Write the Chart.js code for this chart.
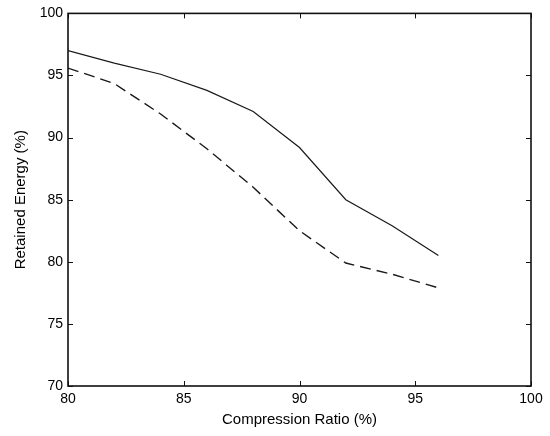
<!DOCTYPE html>
<html>
<head>
<meta charset="utf-8">
<script src="https://cdn.jsdelivr.net/npm/chart.js@4/dist/chart.umd.min.js"></script>
<style>
  html, body { margin: 0; padding: 0; background: #fff; }
</style>
</head>
<body>
<canvas id="canvas" width="550" height="436"></canvas>
<script>
// compression ratio (%) on x
var ratios = [80, 82, 84, 86, 88, 90, 92, 94, 96];
// retained energy (%) - solid curve
var solidEnergy = [97.0, 96.0, 95.1, 93.8, 92.1, 89.2, 85.0, 82.9, 80.5];
// retained energy (%) - dashed curve
var dashedEnergy = [95.6, 94.35, 91.9, 89.1, 86.0, 82.5, 79.9, 79.0, 77.9];

var xTicks = [80, 85, 90, 95, 100];
var yTicks = [70, 75, 80, 85, 90, 95, 100];

var fontFamily = "'Liberation Sans', Arial, sans-serif";

function toPoints(xs, ys) {
  return xs.map(function (x, i) { return { x: x, y: ys[i] }; });
}

// frame box plus inward tick marks on all four sides
var frameTicks = {
  id: 'frameTicks',
  afterDraw: function (chart) {
    var ctx = chart.ctx;
    var a = chart.chartArea;
    var len = 5;
    ctx.save();
    ctx.strokeStyle = '#111';
    ctx.lineWidth = 1;
    xTicks.forEach(function (v) {
      var px = Math.round(chart.scales.x.getPixelForValue(v)) + 0.5;
      ctx.beginPath();
      ctx.moveTo(px, a.bottom); ctx.lineTo(px, a.bottom - len);
      ctx.moveTo(px, a.top); ctx.lineTo(px, a.top + len);
      ctx.stroke();
    });
    yTicks.forEach(function (v) {
      var py = Math.round(chart.scales.y.getPixelForValue(v)) + 0.5;
      ctx.beginPath();
      ctx.moveTo(a.left, py); ctx.lineTo(a.left + len, py);
      ctx.moveTo(a.right, py); ctx.lineTo(a.right - len, py);
      ctx.stroke();
    });
    ctx.lineWidth = 1.6;
    ctx.strokeRect(a.left, a.top, a.right - a.left, a.bottom - a.top);
    ctx.restore();
  }
};

const ctx = document.getElementById('canvas').getContext('2d');
const myChart = new Chart(ctx, {
  type: 'line',
  data: {
    datasets: [{
      label: 'solid',
      data: toPoints(ratios, solidEnergy),
      borderColor: '#1a1a1a',
      borderWidth: 1.2,
      pointRadius: 0,
      fill: false,
      tension: 0
    }, {
      label: 'dashed',
      data: toPoints(ratios, dashedEnergy),
      borderColor: '#1a1a1a',
      borderWidth: 1.4,
      borderDash: [11, 6],
      pointRadius: 0,
      fill: false,
      tension: 0
    }]
  },
  options: {
    responsive: false,
    animation: false,
    layout: { padding: { left: 0, right: 19, top: 10, bottom: 0 } },
    plugins: {
      legend: { display: false },
      tooltip: { enabled: false }
    },
    scales: {
      x: {
        type: 'linear',
        min: 80,
        max: 100,
        afterBuildTicks: function (scale) {
          scale.ticks = xTicks.map(function (v) { return { value: v }; });
        },
        afterFit: function (scale) { scale.height = 50; },
        ticks: {
          color: '#000',
          padding: 5,
          maxRotation: 0,
          font: { family: fontFamily, size: 14 }
        },
        grid: { drawOnChartArea: false, drawTicks: false },
        border: { display: false },
        title: {
          display: true,
          text: 'Compression Ratio (%)',
          color: '#000',
          font: { family: fontFamily, size: 15 },
          padding: { top: 0, bottom: 7 }
        }
      },
      y: {
        type: 'linear',
        min: 70,
        max: 100,
        afterBuildTicks: function (scale) {
          scale.ticks = yTicks.map(function (v) { return { value: v }; });
        },
        afterFit: function (scale) { scale.width = 68; },
        ticks: {
          color: '#000',
          padding: 5,
          font: { family: fontFamily, size: 14 }
        },
        grid: { drawOnChartArea: false, drawTicks: false },
        border: { display: false },
        title: {
          display: true,
          text: 'Retained Energy (%)',
          color: '#000',
          font: { family: fontFamily, size: 15 },
          padding: { top: 12, bottom: 0 }
        }
      }
    }
  },
  plugins: [frameTicks]
});
</script>
</body>
</html>
